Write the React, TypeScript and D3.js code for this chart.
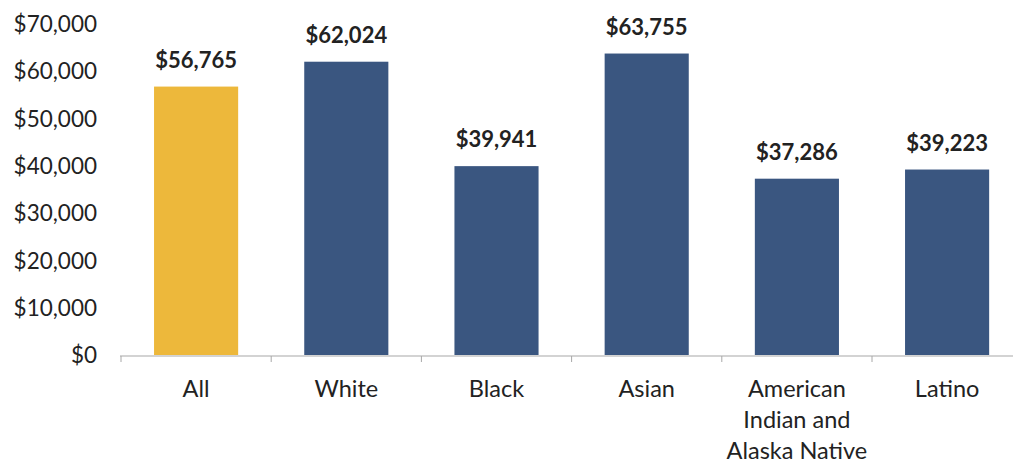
import React from "react";
import * as d3 from "d3";

const categories: string[][] = [
  ["All"],
  ["White"],
  ["Black"],
  ["Asian"],
  ["American", "Indian and", "Alaska Native"],
  ["Latino"],
];
const values: number[] = [56765, 62024, 39941, 63755, 37286, 39223];
const barColors: string[] = ["#EDB83B", "#3A5680", "#3A5680", "#3A5680", "#3A5680", "#3A5680"];
const yTicks: number[] = [0, 10000, 20000, 30000, 40000, 50000, 60000, 70000];

const W = 1013;
const H = 463;
const FONT = "Lato, 'Open Sans', sans-serif";

export default function App() {
  const x = d3
    .scaleBand<number>()
    .domain(d3.range(categories.length))
    .range([121, 121 + 150.2 * 6])
    .paddingInner(0.44)
    .paddingOuter(0.22);
  const bandStep = x.step();
  const bandStart = (i: number) => 121 + i * bandStep;
  const y = d3.scaleLinear().domain([0, 70000]).range([355, 24]);
  const fmt = (v: number) => "$" + d3.format(",")(v);

  return (
    <svg
      width={W}
      height={H}
      style={{ position: "absolute", left: 0, top: 0, background: "#fff" }}
      fontFamily={FONT}
    >
      {yTicks.map((t) => (
        <text
          key={t}
          x={97}
          y={y(t)}
          dy="0.36em"
          textAnchor="end"
          fontSize={22.5}
          fill="#222"
        >
          {fmt(t)}
        </text>
      ))}
      {values.map((v, i) => (
        <g key={i}>
          <rect
            x={x(i)}
            y={y(v)}
            width={x.bandwidth()}
            height={y(0) - y(v)}
            fill={barColors[i]}
          />
          <text
            x={(x(i) as number) + x.bandwidth() / 2}
            y={y(v) - 19}
            textAnchor="middle"
            fontSize={22}
            fontWeight="bold"
            fill="#222"
          >
            {fmt(v)}
          </text>
        </g>
      ))}
      <line x1={120} x2={W} y1={y(0) + 1} y2={y(0) + 1} stroke="#a8a8a8" strokeWidth={1.2} />
      {d3.range(categories.length + 1).map((i) => (
        <line
          key={i}
          x1={bandStart(i)}
          x2={bandStart(i)}
          y1={y(0) + 1}
          y2={y(0) + 7}
          stroke="#a8a8a8"
          strokeWidth={1}
        />
      ))}
      {categories.map((lines, i) => (
        <text
          key={i}
          x={(x(i) as number) + x.bandwidth() / 2}
          y={397}
          textAnchor="middle"
          fontSize={23.5}
          fill="#222"
        >
          {lines.map((l, j) => (
            <tspan key={j} x={(x(i) as number) + x.bandwidth() / 2} dy={j === 0 ? 0 : 31}>
              {l}
            </tspan>
          ))}
        </text>
      ))}
    </svg>
  );
}
